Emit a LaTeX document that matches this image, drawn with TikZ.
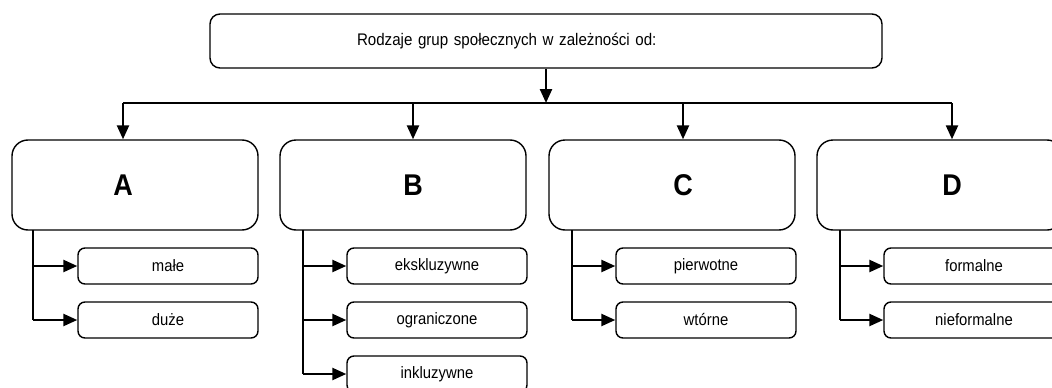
\documentclass[tikz,border=0pt]{standalone}
\usepackage{fontspec}
\setmainfont{Liberation Sans}[FakeStretch=0.9]
\usetikzlibrary{arrows.meta}

\tikzset{
	topbox/.style={draw, line width=1.4pt, rounded corners=10pt, minimum width=672pt, minimum height=54pt,
		inner xsep=147pt, text width=378pt, align=left, font=\fontsize{16.8}{19}\selectfont},
	groupbox/.style={draw, line width=1.4pt, rounded corners=16pt, minimum width=246pt, minimum height=90pt},
	letter/.style={font=\fontsize{30}{33}\selectfont\bfseries},
	kindbox/.style={draw, line width=1.4pt, rounded corners=7pt, minimum width=180pt, minimum height=36pt,
		font=\fontsize{16.5}{18}\selectfont},
	link/.style={line width=2.4pt},
	arr/.style={line width=2.4pt, -{Triangle[length=14pt,width=12pt]}}
}

\begin{document}
\begin{tikzpicture}[x=1pt, y=-1pt]
			\useasboundingbox (0,0) rectangle (1052,388);
			\clip (0,0) rectangle (1052,388);
			
			%%%%% TOP %%%%%
			\node[topbox] (top) at (546, 41) {Rodzaje grup społecznych w zależności od:};
			\coordinate (hub) at (546, 103);
			
			%%%%% GROUPS %%%%%
			\node[groupbox] (boxA) at (135, 185) {};
			\node[groupbox] (boxB) at (403, 185) {};
			\node[groupbox] (boxC) at (672, 185) {};
			\node[groupbox] (boxD) at (940, 185) {};
			
			\node[letter] (A) at (123, 185) {A};
			\node[letter] (B) at (413, 185) {B};
			\node[letter] (C) at (683, 185) {C};
			\node[letter] (D) at (952, 185) {D};
			
			\draw[arr] (top.south) -- (hub);
			\draw[link] (A |- hub) -- (D |- hub);
			\draw[arr] (A |- hub) -- (A |- boxA.north);
			\draw[arr] (B |- hub) -- (B |- boxB.north);
			\draw[arr] (C |- hub) -- (C |- boxC.north);
			\draw[arr] (D |- hub) -- (D |- boxD.north);
			
			%%%%% KINDS %%%%%
			\node[kindbox] (male) at (168, 266) {małe};
			\node[kindbox] (duze) at (168, 320) {duże};
			
			\node[kindbox] (eksk) at (437, 266) {ekskluzywne};
			\node[kindbox] (ogra) at (437, 320) {ograniczone};
			\node[kindbox] (inkl) at (437, 374) {inkluzywne};
			
			\node[kindbox] (pier) at (706, 266) {pierwotne};
			\node[kindbox] (wtor) at (706, 320) {wtórne};
			
			\node[kindbox] (form) at (974, 266) {formalne};
			\node[kindbox] (nief) at (974, 320) {nieformalne};
			
			\coordinate (trA) at (33, 230);
			\coordinate (trB) at (303, 230);
			\coordinate (trC) at (572, 230);
			\coordinate (trD) at (840, 230);
			
			\draw[link] (trA) -- (trA |- duze);
			\draw[arr] (trA |- male) -- (male);
			\draw[arr] (trA |- duze) -- (duze);
			
			\draw[link] (trB) -- (trB |- inkl);
			\draw[arr] (trB |- eksk) -- (eksk);
			\draw[arr] (trB |- ogra) -- (ogra);
			\draw[arr] (trB |- inkl) -- (inkl);
			
			\draw[link] (trC) -- (trC |- wtor);
			\draw[arr] (trC |- pier) -- (pier);
			\draw[arr] (trC |- wtor) -- (wtor);
			
			\draw[link] (trD) -- (trD |- nief);
			\draw[arr] (trD |- form) -- (form);
			\draw[arr] (trD |- nief) -- (nief);
\end{tikzpicture}
\end{document}
